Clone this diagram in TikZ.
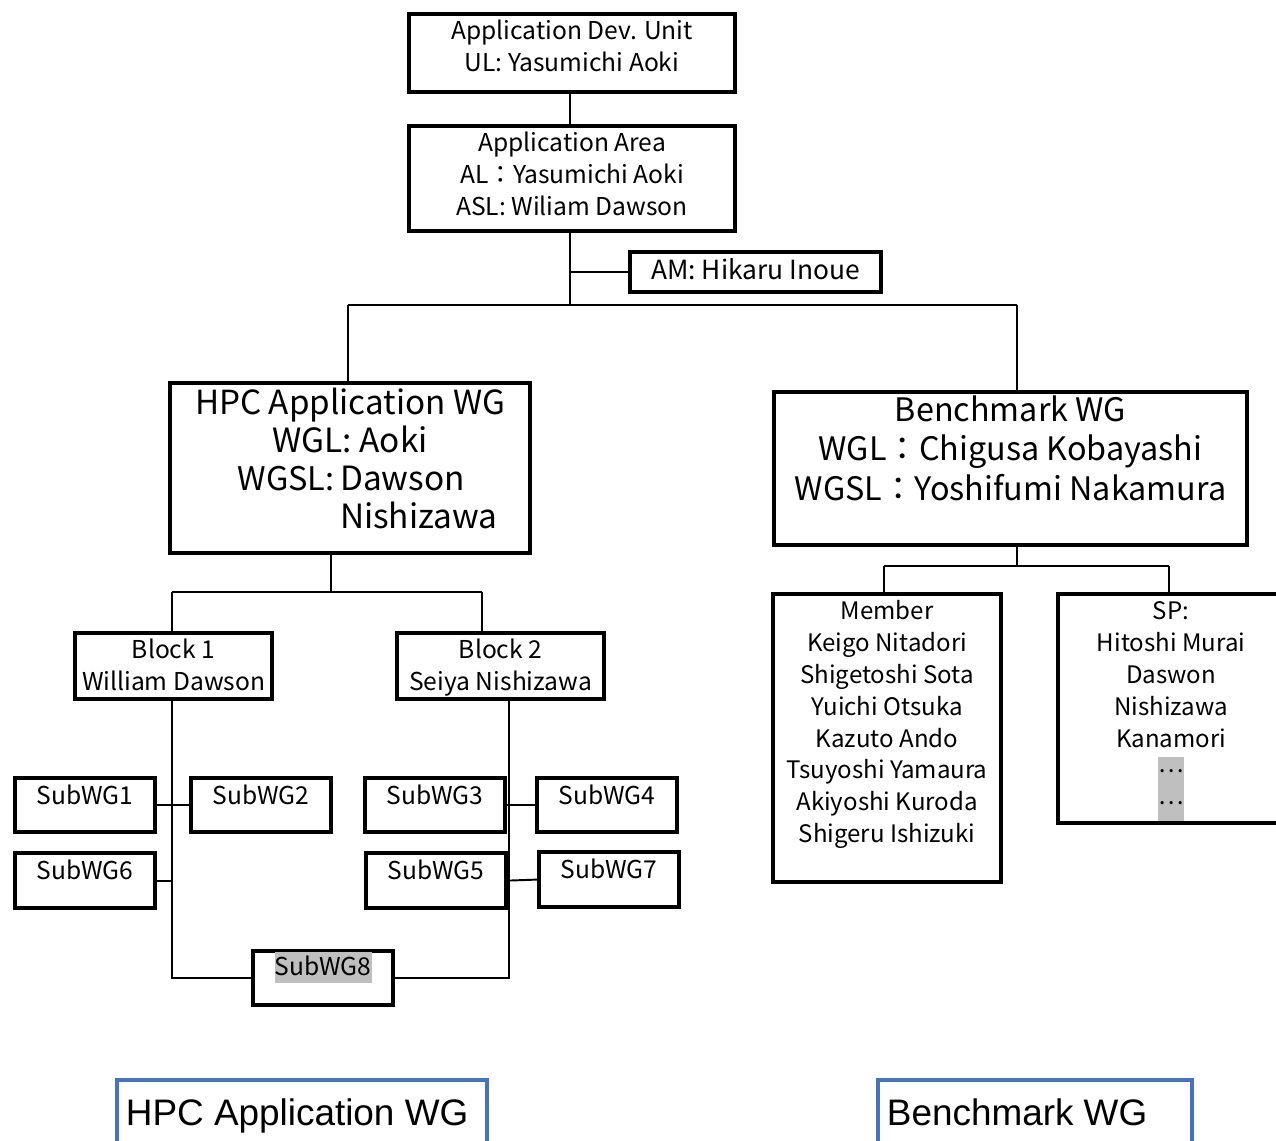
\documentclass[tikz,border=0pt]{standalone}
\usepackage{fontspec}
\setmainfont{Noto Sans CJK JP}
\newfontfamily\legendfont{Liberation Sans}
\usepackage{tikz}
\usetikzlibrary{%
   positioning%
}
\definecolor{hlgray}{RGB}{191,191,191}
\definecolor{legendblue}{RGB}{68,114,196}
% text of a box: width, height, first baseline, lines
\newcommand{\orglines}[4]{\parbox[t][#2][t]{#1}{\centering\rule{0pt}{#3}#4}}

\begin{document}
\begin{tikzpicture}[x=0.02cm,y=-0.02cm,orgbox/.style={
	rectangle,
	draw=black,
	line width=2.4pt,
	inner sep=0pt,
	anchor=north west,
	font=\fontsize{14pt}{18.2pt}\selectfont
	},wgbox/.style={
	orgbox,
	font=\fontsize{19pt}{21.8pt}\selectfont
	},subbox/.style={
	orgbox,
	font=\fontsize{14pt}{17.6pt}\selectfont
	},namebox/.style={
	orgbox,
	font=\fontsize{13.7pt}{18.2pt}\selectfont
	},legend/.style={
	rectangle,
	draw=legendblue,
	line width=2.2pt,
	inner sep=0pt,
	anchor=north west,
	font=\legendfont\fontsize{21pt}{25pt}\selectfont
	},link/.style={
	line width=1.1pt
	}
]
\useasboundingbox (0,0) rectangle (1276,1141);

% Unit and area
\node (atomUnit) [orgbox] at (407,12) {\orglines{6.52cm}{1.56cm}{0.5cm}{Application Dev. Unit\\UL: Yasumichi Aoki}};
\node (atomArea) [orgbox] at (407,124) {\orglines{6.52cm}{2.10cm}{0.5cm}{Application Area\\AL：Yasumichi Aoki\\ASL: Wiliam Dawson}};
\node (atomAM) [orgbox,font=\fontsize{15pt}{18pt}\selectfont] at (628,250) {\orglines{5.02cm}{0.80cm}{0.54cm}{AM: Hikaru Inoue}};

% Working groups
\node (atomHPC) [wgbox] at (168,381) {\orglines{7.20cm}{3.40cm}{0.62cm}{{\fontsize{18.9pt}{21pt}\selectfont HPC Application WG}\\WGL: Aoki\\\hspace*{0.7cm}\begin{tabular}[t]{@{}r@{\,}l@{}}{\fontsize{18.5pt}{21pt}\selectfont WGSL:} & {\fontsize{19pt}{21pt}\selectfont Dawson}\\ & {\fontsize{19pt}{21pt}\selectfont Nishizawa}\end{tabular}}};
\node (atomBench) [wgbox] at (772,390) {\orglines{9.46cm}{3.06cm}{0.58cm}{\fontsize{18.4pt}{22.5pt}\selectfont Benchmark WG\\WGL：Chigusa Kobayashi\\WGSL：Yoshifumi Nakamura}};

% Blocks
\node (atomBlock1) [orgbox] at (73,631) {\orglines{3.94cm}{1.32cm}{0.5cm}{Block 1\\William Dawson}};
\node (atomBlock2) [orgbox] at (395,631) {\orglines{4.14cm}{1.32cm}{0.5cm}{Block 2\\Seiya Nishizawa}};

% Sub working groups
\node (atomSub1) [subbox] at (13,776) {\orglines{2.80cm}{1.08cm}{0.52cm}{SubWG1}};
\node (atomSub2) [subbox] at (189,776) {\orglines{2.80cm}{1.08cm}{0.52cm}{SubWG2}};
\node (atomSub3) [subbox] at (363,776) {\orglines{2.80cm}{1.08cm}{0.52cm}{SubWG3}};
\node (atomSub4) [subbox] at (535,776) {\orglines{2.80cm}{1.08cm}{0.52cm}{SubWG4}};
\node (atomSub6) [subbox] at (13,851) {\orglines{2.80cm}{1.10cm}{0.52cm}{SubWG6}};
\node (atomSub5) [subbox] at (364,851) {\orglines{2.80cm}{1.10cm}{0.52cm}{SubWG5}};
\node (atomSub7) [subbox] at (537,850) {\orglines{2.80cm}{1.10cm}{0.52cm}{SubWG7}};
\node (atomSub8) [subbox] at (251,949) {\orglines{2.80cm}{1.08cm}{0.48cm}{\setlength{\fboxsep}{0pt}\colorbox{hlgray}{\rule[-0.16cm]{0pt}{0.62cm}SubWG8}}};

% Benchmark members
\node (atomMember) [namebox] at (771,592) {\orglines{4.56cm}{5.76cm}{0.5cm}{Member\\Keigo Nitadori\\Shigetoshi Sota\\Yuichi Otsuka\\Kazuto Ando\\Tsuyoshi Yamaura\\Akiyoshi Kuroda\\Shigeru Ishizuki}};
\node (atomSP) [namebox] at (1056,592) {\orglines{4.52cm}{4.58cm}{0.5cm}{\setlength{\fboxsep}{0pt}SP:\\Hitoshi Murai\\Daswon\\Nishizawa\\Kanamori\\\colorbox{hlgray}{\strut\raisebox{0.28em}{…}}\\\colorbox{hlgray}{\strut\raisebox{0.28em}{…}}}};

% Legend
\node (atomLegHPC) [legend] at (115,1078) {\parbox[t][1.6cm][t]{7.40cm}{\rule{0pt}{0.92cm}\hspace*{0.18cm}HPC Application WG}};
\node (atomLegBench) [legend] at (876,1078) {\parbox[t][1.6cm][t]{6.28cm}{\rule{0pt}{0.92cm}\hspace*{0.18cm}Benchmark WG}};

% junctions
\coordinate (POSA) at (570,305);
\coordinate (POSB) at (348,305);
\coordinate (POSC) at (1017,305);
\coordinate (POSD) at (331,592);
\coordinate (POSE) at (172,592);
\coordinate (POSF) at (482,592);
\coordinate (POSG) at (509,697);
\coordinate (POSH) at (1017,566);
\coordinate (POSI) at (884,566);
\coordinate (POSJ) at (1169,566);

\draw[link]	(POSA |- atomUnit.south) -- (POSA |- atomArea.north);
\draw[link]	(POSA |- atomArea.south) -- (POSA);
\draw[link]	(atomAM.west) -- (atomAM.west -| POSA);
\draw[link]	(POSB) -- (POSC);
\draw[link]	(POSB) -- (POSB |- atomHPC.north);
\draw[link]	(POSC) -- (POSC |- atomBench.north);
\draw[link]	(atomHPC.south -| POSD) -- (POSD);
\draw[link]	(POSE) -- (POSF);
\draw[link]	(POSE) -- (POSE |- atomBlock1.north);
\draw[link]	(POSF) -- (POSF |- atomBlock2.north);
\draw[link]	(atomBlock1.south -| POSE) |- (atomSub8.west);
\draw[link]	(POSG) |- (atomSub8.east);
\draw[link]	(atomSub1) edge[-] (atomSub2);
\draw[link]	(atomSub6.east) -- (atomSub6.east -| POSE);
\draw[link]	(atomSub3) edge[-] (atomSub4);
\draw[link]	(atomSub5.east) -- (atomSub7.west);
\draw[link]	(atomBench.south -| POSH) -- (POSH);
\draw[link]	(POSI) -- (POSJ);
\draw[link]	(POSI) -- (POSI |- atomMember.north);
\draw[link]	(POSJ) -- (POSJ |- atomSP.north);

\end{tikzpicture}
\end{document}
